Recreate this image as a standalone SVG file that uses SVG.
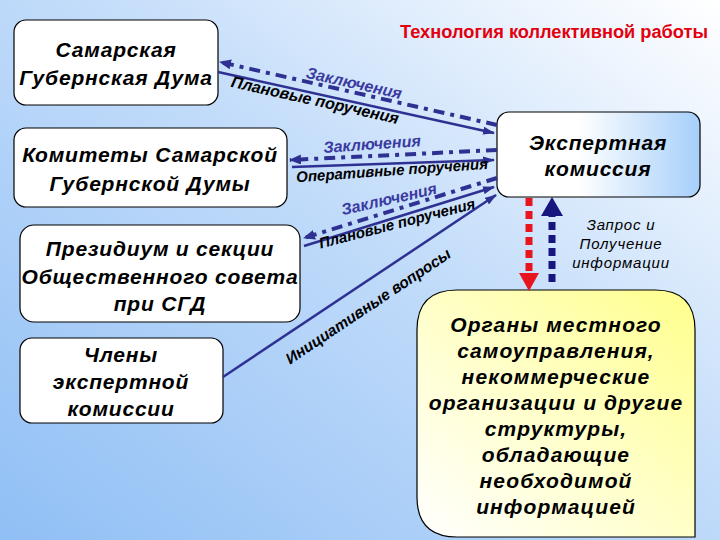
<svg xmlns="http://www.w3.org/2000/svg" width="720" height="540" viewBox="0 0 720 540">
<defs>
<linearGradient id="bg" x1="0" y1="1" x2="1" y2="0">
<stop offset="0" stop-color="#90bff5"/>
<stop offset="0.55" stop-color="#c2dcfa"/>
<stop offset="1" stop-color="#ffffff"/>
</linearGradient>
<linearGradient id="exp" x1="0" y1="0" x2="1" y2="0">
<stop offset="0" stop-color="#ffffff"/>
<stop offset="0.4" stop-color="#ffffff"/>
<stop offset="1" stop-color="#a6cffa"/>
</linearGradient>
<linearGradient id="yel" x1="0" y1="1" x2="1" y2="0">
<stop offset="0" stop-color="#ffffff"/>
<stop offset="0.5" stop-color="#ffffc8"/>
<stop offset="1" stop-color="#ffff8c"/>
</linearGradient>
<marker id="ah" viewBox="0 0 12 8" refX="11" refY="4" markerWidth="12" markerHeight="8" markerUnits="userSpaceOnUse" orient="auto">
<path d="M0,0 L12,4 L0,8 z" fill="#2e3192"/>
</marker>
<marker id="ahd" viewBox="0 0 12 10" refX="11" refY="5" markerWidth="12" markerHeight="10" markerUnits="userSpaceOnUse" orient="auto-start-reverse">
<path d="M0,0 L12,5 L0,10 z" fill="#2e3192"/>
</marker>
</defs>
<style>
.box{fill:#ffffff;stroke:#000;stroke-width:1.2}
.nt{font-family:"Liberation Sans",Arial,sans-serif;font-weight:bold;font-style:italic;font-size:21px;letter-spacing:0.8px;fill:#000;text-anchor:middle}
.lb{font-family:"Liberation Sans",Arial,sans-serif;font-weight:bold;font-style:italic;font-size:16px;fill:#000;text-anchor:middle;dominant-baseline:central}
.lz{fill:#3a3aa0}
.solid{stroke:#2e3192;stroke-width:2.5;fill:none}
.dd{stroke:#2e3192;stroke-width:4;fill:none;stroke-dasharray:11 6 4 6}
.sm{font-family:"Liberation Sans",Arial,sans-serif;font-style:italic;font-size:15px;letter-spacing:0.8px;fill:#000;text-anchor:middle}
</style>
<rect width="720" height="540" fill="url(#bg)"/>
<text x="400" y="38" font-family="Liberation Sans,Arial,sans-serif" font-weight="bold" font-size="18" fill="#e3000f" textLength="308" lengthAdjust="spacingAndGlyphs">Технология коллективной работы</text>

<g id="duma">
<rect class="box" x="14" y="20" width="204" height="85" rx="12"/>
<text class="nt" x="116" y="57">Самарская</text>
<text class="nt" x="116" y="85">Губернская Дума</text>
</g>
<g id="komitety">
<rect class="box" x="14" y="128" width="273" height="79" rx="12"/>
<text class="nt" x="150" y="162">Комитеты Самарской</text>
<text class="nt" x="150" y="191">Губернской Думы</text>
</g>
<g id="prezidium">
<rect class="box" x="20" y="225" width="280" height="97" rx="14"/>
<text class="nt" x="160" y="256">Президиум и секции</text>
<text class="nt" x="160" y="284">Общественного совета</text>
<text class="nt" x="160" y="311">при СГД</text>
</g>
<g id="chleny">
<rect class="box" x="20" y="338" width="203" height="85" rx="12"/>
<text class="nt" x="121" y="362">Члены</text>
<text class="nt" x="121" y="389">экспертной</text>
<text class="nt" x="121" y="416">комиссии</text>
</g>
<g id="ekspert">
<rect x="497" y="112" width="203" height="85" rx="12" fill="url(#exp)" stroke="#000" stroke-width="1.2"/>
<text class="nt" x="598" y="150">Экспертная</text>
<text class="nt" x="598" y="176">комиссия</text>
</g>
<g id="organy">
<path d="M457,290 L655,290 Q695,290 695,330 L695,537 L457,537 Q417,537 417,497 L417,330 Q417,290 457,290 z" fill="url(#yel)" stroke="#000" stroke-width="1.2"/>
<g class="nt" style="letter-spacing:1.1px">
<text x="556" y="332">Органы местного</text>
<text x="556" y="358">самоуправления,</text>
<text x="556" y="384">некоммерческие</text>
<text x="556" y="410">организации и другие</text>
<text x="556" y="436">структуры,</text>
<text x="556" y="462">обладающие</text>
<text x="556" y="488">необходимой</text>
<text x="556" y="514">информацией</text>
</g>
</g>

<g id="connectors">
<line class="dd" x1="497" y1="125" x2="220" y2="62" marker-end="url(#ahd)"/>
<line class="solid" x1="218" y1="72" x2="494" y2="133" marker-end="url(#ah)"/>
<line class="dd" x1="497" y1="150" x2="290" y2="160" marker-end="url(#ahd)"/>
<line class="solid" x1="292" y1="167" x2="494" y2="160" marker-end="url(#ah)"/>
<line class="dd" x1="497" y1="178" x2="304" y2="238" marker-end="url(#ahd)"/>
<line class="solid" x1="304" y1="246" x2="494" y2="187" marker-end="url(#ah)"/>
<line class="solid" x1="223" y1="377" x2="496" y2="195" marker-end="url(#ah)"/>
<line x1="529" y1="198" x2="529" y2="274" stroke="#e8141e" stroke-width="7" stroke-dasharray="8 5"/>
<path d="M519,273 L539,273 L529,291 z" fill="#e8141e"/>
<line x1="552" y1="282" x2="552" y2="214" stroke="#16167e" stroke-width="7" stroke-dasharray="8 5"/>
<path d="M541,216 L563,216 L552,197 z" fill="#16167e"/>
</g>

<g id="labels">
<text class="lb lz" transform="translate(354,83) rotate(12.5)">Заключения</text>
<text class="lb" transform="translate(315,100) rotate(12.5)">Плановые поручения</text>
<text class="lb lz" transform="translate(372,144) rotate(-4)">Заключения</text>
<text class="lb" style="font-size:15px" transform="translate(392,170) rotate(-4)">Оперативные поручения</text>
<text class="lb lz" transform="translate(389,199) rotate(-13)">Заключения</text>
<text class="lb" style="font-size:15px" transform="translate(397,223) rotate(-14.5)">Плановые поручения</text>
<text class="lb" style="font-size:15.5px" transform="translate(368,306) rotate(-33.7)">Инициативные вопросы</text>
<text class="sm" x="621" y="230">Запрос и</text>
<text class="sm" x="621" y="249">Получение</text>
<text class="sm" x="621" y="268">информации</text>
</g>
</svg>
